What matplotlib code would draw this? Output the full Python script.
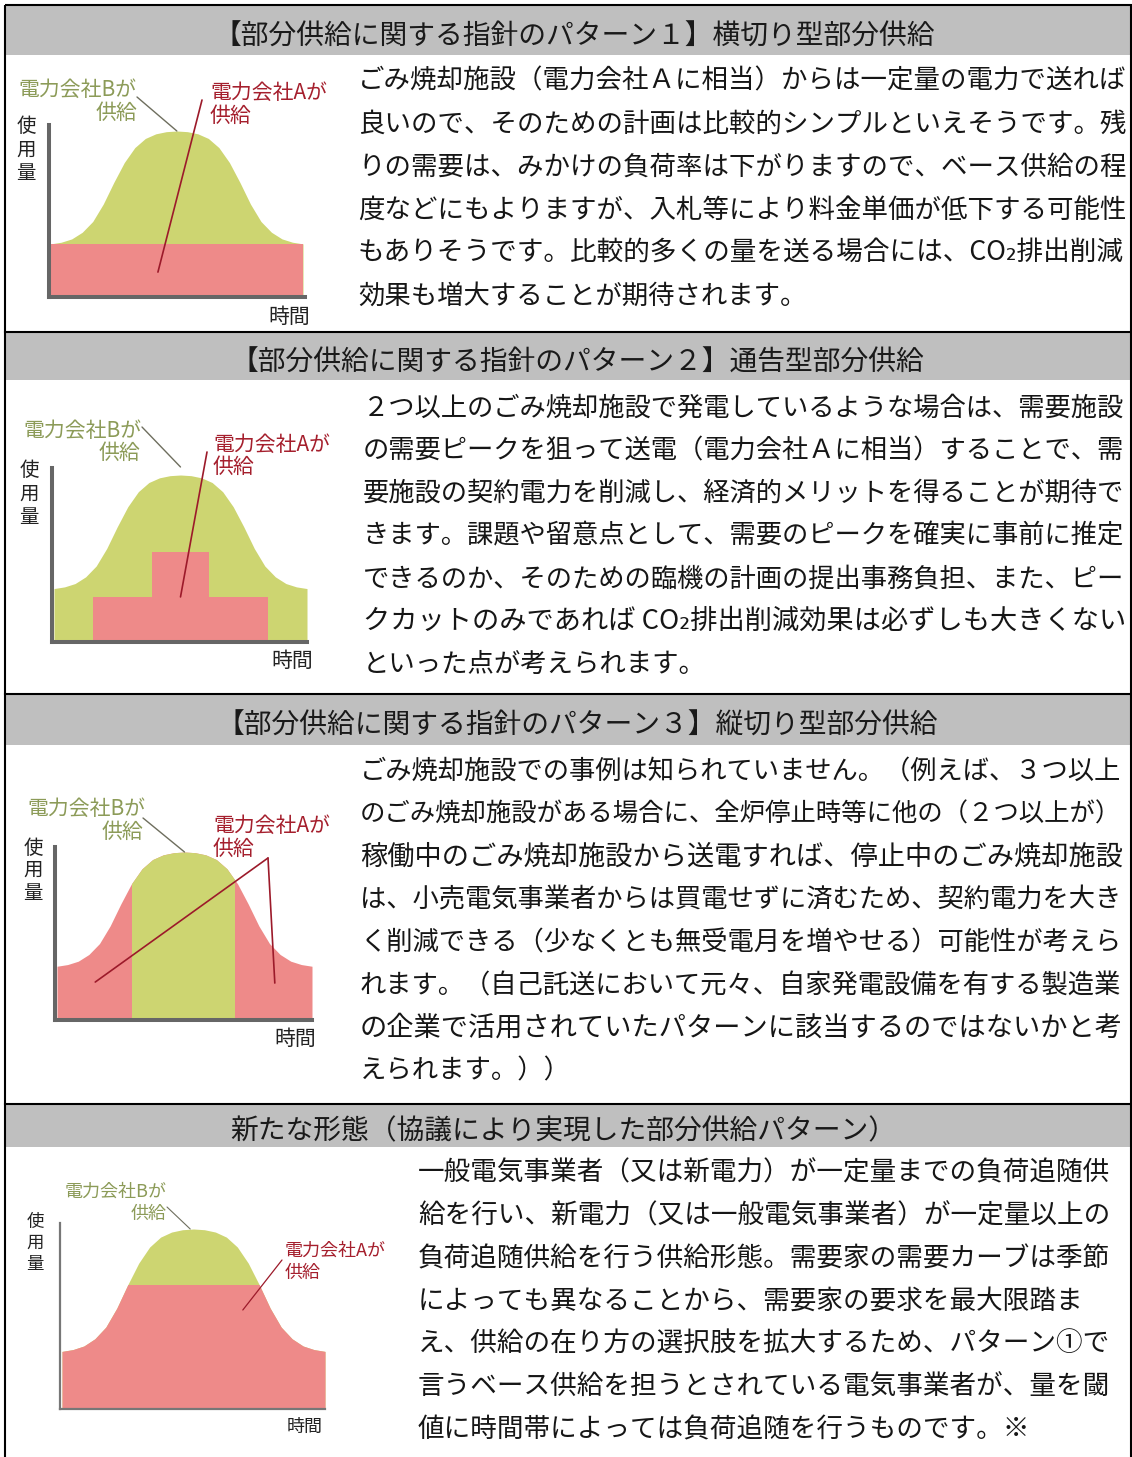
import matplotlib
matplotlib.use("Agg")
import matplotlib.pyplot as plt
from matplotlib.patches import Rectangle

plt.rcParams['font.family'] = ['Noto Sans CJK JP', 'DejaVu Sans']

# daily demand curve of the user (hour of day, % of peak)
hours = list(range(25))
demand = [32, 33, 35, 39, 45.5, 56, 69, 81, 90, 95.5, 98.3, 99.6, 100,
          99.6, 98.3, 95.5, 90, 81, 69, 56, 45.5, 39, 35, 33, 32]

# pattern 1: company A sends a flat base amount
p1_base = 32
# pattern 2: company A covers the peak with a stepped block
p2_edges = [3.7, 9.3, 14.7, 20.3]
p2_levels = [27, 54, 27]
# pattern 3: company B takes a time window in the middle of the day
p3_window = [7.1, 16.7]
# new form: company A follows the load up to a fixed amount
p4_cap = 69

headers = [
    "【部分供給に関する指針のパターン１】横切り型部分供給",
    "【部分供給に関する指針のパターン２】通告型部分供給",
    "【部分供給に関する指針のパターン３】縦切り型部分供給",
    "新たな形態（協議により実現した部分供給パターン）",
]

body_p1 = [
    "ごみ焼却施設（電力会社Ａに相当）からは一定量の電力で送れば",
    "良いので、そのための計画は比較的シンプルといえそうです。残",
    "りの需要は、みかけの負荷率は下がりますので、ベース供給の程",
    "度などにもよりますが、入札等により料金単価が低下する可能性",
    "もありそうです。比較的多くの量を送る場合には、CO₂排出削減",
    "効果も増大することが期待されます。",
]
body_p2 = [
    "２つ以上のごみ焼却施設で発電しているような場合は、需要施設",
    "の需要ピークを狙って送電（電力会社Ａに相当）することで、需",
    "要施設の契約電力を削減し、経済的メリットを得ることが期待で",
    "きます。課題や留意点として、需要のピークを確実に事前に推定",
    "できるのか、そのための臨機の計画の提出事務負担、また、ピー",
    "クカットのみであれば CO₂排出削減効果は必ずしも大きくない",
    "といった点が考えられます。",
]
body_p3 = [
    "ごみ焼却施設での事例は知られていません。（例えば、３つ以上",
    "のごみ焼却施設がある場合に、全炉停止時等に他の（２つ以上が）",
    "稼働中のごみ焼却施設から送電すれば、停止中のごみ焼却施設",
    "は、小売電気事業者からは買電せずに済むため、契約電力を大き",
    "く削減できる（少なくとも無受電月を増やせる）可能性が考えら",
    "れます。（自己託送において元々、自家発電設備を有する製造業",
    "の企業で活用されていたパターンに該当するのではないかと考",
    "えられます。））",
]
body_p4 = [
    "一般電気事業者（又は新電力）が一定量までの負荷追随供",
    "給を行い、新電力（又は一般電気事業者）が一定量以上の",
    "負荷追随供給を行う供給形態。需要家の需要カーブは季節",
    "によっても異なることから、需要家の要求を最大限踏ま",
    "え、供給の在り方の選択肢を拡大するため、パターン①で",
    "言うベース供給を担うとされている電気事業者が、量を閾",
    "値に時間帯によっては負荷追随を行うものです。※",
]

label_b = ["電力会社Bが", "供給"]
label_a = ["電力会社Aが", "供給"]

W, H = 1132, 1457
GREEN = "#cdd571"
RED = "#ee8a89"
GREEN_TXT = "#8c9b58"
RED_TXT = "#a51f2d"
B_LINE = "#6e6e5e"
A_LINE = "#9c1a2a"

fig = plt.figure(figsize=(W / 100, H / 100), dpi=100)
bg = fig.add_axes([0, 0, 1, 1])
bg.set_xlim(0, W)
bg.set_ylim(H, 0)
bg.axis("off")
renderer = fig.canvas.get_renderer()

# frame, header bands and separators
bands = [(5, 55), (333, 380), (695, 745), (1105, 1147)]
for top, bot in bands:
    bg.add_patch(Rectangle((5, top), 1126, bot - top, color="#bfbfbf", lw=0))
bg.add_patch(Rectangle((5, 5), 1126, 1470, fill=False, ec="black", lw=1.5))
for y in [332, 694, 1104]:
    bg.plot([5, 1131], [y, y], color="black", lw=1.5)

header_pos = [(574, 37), (577, 363), (577, 726), (563, 1131)]
for (x, y), s in zip(header_pos, headers):
    bg.text(x, y, s, fontsize=20, ha="center", va="center", color="#1a1a1a")


def body(lines, x0, x1, y0, step, fs=19.0, short=None):
    # lines not listed in `short` are stretched to the right edge
    if short is None:
        short = [len(lines) - 1]
    texts = []
    fitted = []
    for i, s in enumerate(lines):
        t = bg.text(x0, y0 + i * step, s, fontsize=fs, ha="left", va="center",
                    color="#161616")
        texts.append(t)
        if i not in short:
            w = t.get_window_extent(renderer).width
            size = fs * (x1 - x0) / w
            t.set_fontsize(size)
            fitted.append(size)
    return texts, fitted


body(body_p1, 358, 1125, 81, 43)
body(body_p2, 363, 1125, 408, 42.7)
body(body_p3, 360, 1122, 772, 42.7)
p4_texts, p4_sizes = body(body_p4, 418, 1109, 1173, 42.8, short=[3, 6])
for i in [3, 6]:
    p4_texts[i].set_fontsize(sum(p4_sizes) / len(p4_sizes))


def chart(ax_x, ax_top, ax_bot, ax_r, c0, c1, peak, lw=2.9, col="#666666"):
    ax = fig.add_axes([ax_x / W, 1 - ax_bot / H, (ax_r - ax_x) / W, (ax_bot - ax_top) / H])
    pxh = (c1 - c0) / 24
    ax.set_xlim(-(c0 - ax_x) / pxh, 24 + (ax_r - c1) / pxh)
    pxu = (ax_bot - peak) / 100
    ax.set_ylim(0, (ax_bot - ax_top) / pxu)
    for s in ["top", "right"]:
        ax.spines[s].set_visible(False)
    for s in ["left", "bottom"]:
        ax.spines[s].set_linewidth(lw)
        ax.spines[s].set_color(col)
    ax.set_xticks([])
    ax.set_yticks([])
    ax.patch.set_visible(False)
    return ax


def leader(ax, start, xy, color, lw=1.0):
    ax.annotate("", xy=xy, xycoords="data", xytext=start, textcoords=bg.transData,
                annotation_clip=False,
                arrowprops=dict(arrowstyle="-", color=color, lw=lw, shrinkA=0, shrinkB=0))


def labels(bpos, apos, uses, timepos, fs=15, fs_axis=14):
    (bx, by), (bx2, by2) = bpos
    bg.text(bx, by, label_b[0], fontsize=fs, color=GREEN_TXT, ha="left", va="center")
    bg.text(bx2, by2, label_b[1], fontsize=fs, color=GREEN_TXT, ha="right", va="center")
    ax_, ay = apos
    bg.text(ax_, ay, label_a[0], fontsize=fs, color=RED_TXT, ha="left", va="center")
    bg.text(ax_, ay + (by2 - by), label_a[1], fontsize=fs, color=RED_TXT, ha="left", va="center")
    ux, uys = uses
    for ch, uy in zip("使用量", uys):
        bg.text(ux, uy, ch, fontsize=fs_axis, ha="center", va="center", color="#222222")
    bg.text(timepos[0], timepos[1], "時間", fontsize=fs, ha="center", va="center", color="#222222")


# pattern 1: horizontal cut
ax1 = chart(48.7, 125, 297, 305, 50.7, 303, 131)
ax1.fill_between(hours, 0, demand, color=GREEN, lw=0)
ax1.fill_between(hours, 0, p1_base, color=RED, lw=0)
labels(((18, 90), (137, 113)), (210, 93), (26, [127, 150, 173]), (289, 317))
leader(ax1, (137, 97), (12, 100), B_LINE)
leader(ax1, (202, 100), (10.2, 15), A_LINE, 1.2)

# pattern 2: peak notification
ax2 = chart(52, 468, 642, 307, 54, 307, 475)
ax2.fill_between(hours, 0, demand, color=GREEN, lw=0)
ax2.stairs(p2_levels, p2_edges, fill=True, baseline=0, color=RED, lw=0)
labels(((23, 431), (140, 453)), (213, 445), (29, [470, 494, 517]), (292, 661))
leader(ax2, (142, 427), (12, 104.8), B_LINE)
leader(ax2, (207, 452), (12, 27), A_LINE, 1.2)

# pattern 3: vertical cut
ax3 = chart(55, 847, 1020, 312, 57, 312, 852)
ax3.fill_between(hours, 0, demand, color=RED, lw=0)
mid = ax3.fill_between(hours, 0, demand, color=GREEN, lw=0)
mid.set_clip_path(Rectangle((p3_window[0], 0), p3_window[1] - p3_window[0], 120,
                            transform=ax3.transData))
labels(((27, 809), (143, 832)), (213, 826), (33, [848, 870, 893]), (295, 1039))
leader(ax3, (143, 818), (12, 100), B_LINE)
leader(ax3, (268, 858), (3.6, 22.6), A_LINE, 1.2)
leader(ax3, (268, 858), (20.5, 22), A_LINE, 1.2)

# new form: load following up to a cap
ax4 = chart(60, 1223, 1409, 325, 62, 325, 1229, lw=1.6, col="#777777")
ax4.fill_between(hours, 0, demand, color=GREEN, lw=0)
low = ax4.fill_between(hours, 0, demand, color=RED, lw=0)
low.set_clip_path(Rectangle((-1, 0), 26, p4_cap, transform=ax4.transData))
labels(((65, 1192), (167, 1214)), (285, 1251), (35, [1222, 1243, 1264]), (305, 1427),
       fs=13, fs_axis=12.5)
leader(ax4, (167, 1207), (11.7, 100), B_LINE, 0.8)
leader(ax4, (282, 1260), (16.5, 55), A_LINE, 0.9)

fig.savefig("out.png", dpi=100)
